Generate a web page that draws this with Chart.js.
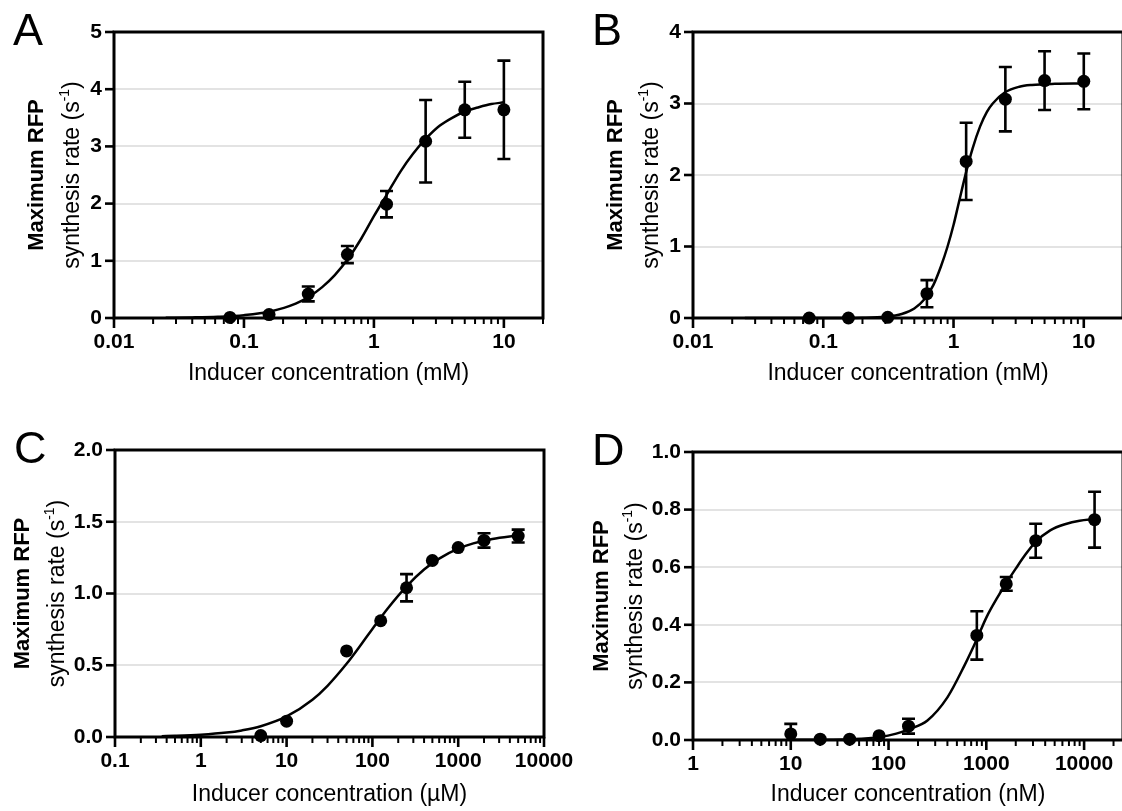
<!DOCTYPE html>
<html><head><meta charset="utf-8">
<script src="https://cdn.jsdelivr.net/npm/chart.js@4.4.0/dist/chart.umd.min.js"></script>
<style>
html,body{margin:0;padding:0;background:#fff;width:1122px;height:811px;overflow:hidden;position:relative}
canvas{position:absolute}
</style></head><body>
<canvas id="cA" width="560" height="387" style="left:0px;top:0px"></canvas>
<canvas id="cB" width="560" height="387" style="left:580px;top:0px"></canvas>
<canvas id="cC" width="600" height="408" style="left:0px;top:400px"></canvas>
<canvas id="cD" width="560" height="408" style="left:580px;top:400px"></canvas>
<script>
// ---------------- DATA ----------------
const panelLetters = ['A', 'B', 'C', 'D'];
const yTitleLine1 = 'Maximum RFP';
const yTitleLine2 = 'synthesis rate (s';
const yTitleSup = '-1';
const yTitleEnd = ')';
const xTitles = ['Inducer concentration (mM)', 'Inducer concentration (mM)', 'Inducer concentration (\u00b5M)', 'Inducer concentration (nM)'];

// Panel A
const xA = [0.078, 0.156, 0.3125, 0.625, 1.25, 2.5, 5, 10];
const yA = [0.01, 0.06, 0.42, 1.11, 1.99, 3.09, 3.64, 3.64];
const eA = [0, 0, 0.13, 0.15, 0.23, 0.72, 0.49, 0.86];
const fitXA = [0.025, 0.04, 0.063, 0.1, 0.16, 0.25, 0.32, 0.4, 0.5, 0.63, 0.8, 1, 1.25, 1.6, 2, 2.5, 3.2, 4, 5, 6.3, 8, 10];
const fitYA = [0.004, 0.01, 0.022, 0.05, 0.115, 0.25, 0.38, 0.54, 0.75, 1.03, 1.39, 1.78, 2.15, 2.56, 2.87, 3.13, 3.36, 3.5, 3.61, 3.68, 3.74, 3.77];
const xMajorA = [0.01, 0.1, 1, 10];
const xLabelsA = ['0.01', '0.1', '1', '10'];
const yTicksA = [0, 1, 2, 3, 4, 5];
const yLabelsA = ['0', '1', '2', '3', '4', '5'];

// Panel B
const xB = [0.078, 0.156, 0.3125, 0.625, 1.25, 2.5, 5, 10];
const yB = [0, 0, 0.01, 0.34, 2.19, 3.06, 3.32, 3.31];
const eB = [0, 0, 0, 0.19, 0.54, 0.45, 0.41, 0.39];
const fitXB = [0.025, 0.1, 0.2, 0.3, 0.4, 0.5, 0.6, 0.7, 0.8, 0.9, 1, 1.1, 1.25, 1.4, 1.6, 1.8, 2, 2.5, 3.2, 4, 6, 10];
const fitYB = [0, 0, 0.004, 0.018, 0.056, 0.134, 0.267, 0.46, 0.72, 1.0, 1.3, 1.62, 2.04, 2.37, 2.68, 2.88, 3.0, 3.16, 3.235, 3.26, 3.275, 3.28];
const xMajorB = [0.01, 0.1, 1, 10];
const xLabelsB = ['0.01', '0.1', '1', '10'];
const yTicksB = [0, 1, 2, 3, 4];
const yLabelsB = ['0', '1', '2', '3', '4'];

// Panel C
const xC = [5, 10, 50, 125, 250, 500, 1000, 2000, 5000];
const yC = [0.01, 0.11, 0.60, 0.81, 1.04, 1.23, 1.32, 1.37, 1.40];
const eC = [0, 0, 0, 0, 0.095, 0, 0, 0.05, 0.045];
const fitXC = [0.35, 0.5, 1, 2, 3, 5, 10, 20, 30, 50, 75, 100, 150, 250, 400, 600, 1000, 1500, 2500, 5000];
const fitYC = [0.0055, 0.008, 0.016, 0.031, 0.046, 0.075, 0.143, 0.26, 0.357, 0.51, 0.65, 0.753, 0.894, 1.05, 1.167, 1.243, 1.312, 1.349, 1.38, 1.405];
const xMajorC = [0.1, 1, 10, 100, 1000, 10000];
const xLabelsC = ['0.1', '1', '10', '100', '1000', '10000'];
const yTicksC = [0, 0.5, 1, 1.5, 2];
const yLabelsC = ['0.0', '0.5', '1.0', '1.5', '2.0'];

// Panel D
const xD = [10, 20, 40, 80, 160, 800, 1600, 3200, 12800];
const yD = [0.021, 0.003, 0.003, 0.015, 0.048, 0.363, 0.542, 0.692, 0.765];
const eD = [0.035, 0, 0, 0, 0.026, 0.084, 0.024, 0.059, 0.097];
const fitXD = [10, 20, 40, 80, 120, 160, 250, 400, 600, 800, 1000, 1300, 1600, 2000, 2500, 3200, 4500, 6500, 9000, 12800];
const fitYD = [0.0005, 0.001, 0.003, 0.01, 0.022, 0.037, 0.068, 0.148, 0.26, 0.35, 0.425, 0.495, 0.545, 0.595, 0.643, 0.688, 0.728, 0.75, 0.761, 0.767];
const xMajorD = [1, 10, 100, 1000, 10000];
const xLabelsD = ['1', '10', '100', '1000', '10000'];
const yTicksD = [0, 0.2, 0.4, 0.6, 0.8, 1.0];
const yLabelsD = ['0.0', '0.2', '0.4', '0.6', '0.8', '1.0'];

// ---------------- RENDERING ----------------
Chart.defaults.font.family = "'Liberation Sans', Arial, Helvetica, sans-serif";
Chart.defaults.color = '#000';

function logTicks(min, max) {
  // tick marks at 1..9 x 10^k inside the axis range
  const out = [];
  for (let k = Math.floor(Math.log10(min)); k <= Math.ceil(Math.log10(max)); k++) {
    for (let m = 1; m <= 9; m++) {
      const v = parseFloat((m * Math.pow(10, k)).toPrecision(6));
      if (v >= min * 0.9999 && v <= max * 1.0001) out.push(v);
    }
  }
  return out;
}

function makePanel(cfg) {
  const isMajor = v => cfg.xMajor.some(m => Math.abs(Math.log10(v) - Math.log10(m)) < 1e-6);
  const plugin = {
    id: 'frame' + cfg.letter,
    beforeDatasetsDraw(chart) {
      const {ctx, chartArea: a, scales: {x, y}} = chart;
      ctx.save();
      ctx.strokeStyle = '#000';
      ctx.lineCap = 'butt';
      x.ticks.forEach(t => {
        const px = x.getPixelForValue(t.value);
        const maj = isMajor(t.value);
        ctx.lineWidth = maj ? 2.6 : 2;
        ctx.beginPath();
        ctx.moveTo(px, a.bottom);
        ctx.lineTo(px, a.bottom + (maj ? 10 : 6));
        ctx.stroke();
      });
      y.ticks.forEach(t => {
        const py = y.getPixelForValue(t.value);
        ctx.lineWidth = 2.6;
        ctx.beginPath();
        ctx.moveTo(a.left - 9, py);
        ctx.lineTo(a.left, py);
        ctx.stroke();
      });
      ctx.lineWidth = 3;
      ctx.strokeRect(a.left, a.top, a.right - a.left, a.bottom - a.top);
      ctx.restore();
    },
    afterDatasetsDraw(chart) {
      const {ctx, scales: {x, y}} = chart;
      ctx.save();
      ctx.strokeStyle = '#000';
      ctx.lineWidth = 2.6;
      cfg.xs.forEach((xv, i) => {
        const e = cfg.errs[i];
        if (!e) return;
        const px = x.getPixelForValue(xv);
        const top = y.getPixelForValue(cfg.ys[i] + e);
        const lowV = cfg.ys[i] - e;
        const bot = y.getPixelForValue(Math.max(lowV, 0));
        ctx.beginPath();
        ctx.moveTo(px, top); ctx.lineTo(px, bot);
        ctx.moveTo(px - 6.5, top); ctx.lineTo(px + 6.5, top);
        if (lowV > 0) { ctx.moveTo(px - 6.5, bot); ctx.lineTo(px + 6.5, bot); }
        ctx.stroke();
      });
      ctx.restore();
    },
    afterDraw(chart) {
      const {ctx, chartArea: a} = chart;
      ctx.save();
      ctx.fillStyle = '#000';
      // panel letter
      ctx.font = "45px 'Liberation Sans', Arial, sans-serif";
      ctx.textAlign = 'left';
      ctx.textBaseline = 'alphabetic';
      ctx.fillText(cfg.letter, a.left - 101, a.top + 13);
      // y title (two lines, rotated)
      const yc = (a.top + a.bottom) / 2;
      ctx.textBaseline = 'middle';
      ctx.save();
      ctx.translate(a.left + cfg.t1, yc);
      ctx.rotate(-Math.PI / 2);
      ctx.font = "bold 22px 'Liberation Sans', Arial, sans-serif";
      ctx.textAlign = 'center';
      ctx.fillText(yTitleLine1, 0, 0);
      ctx.restore();
      ctx.save();
      ctx.translate(a.left + cfg.t2, yc);
      ctx.rotate(-Math.PI / 2);
      ctx.textAlign = 'left';
      const fMain = "23px 'Liberation Sans', Arial, sans-serif";
      const fSup = "14px 'Liberation Sans', Arial, sans-serif";
      ctx.font = fMain;
      const w1 = ctx.measureText(yTitleLine2).width;
      const w3 = ctx.measureText(yTitleEnd).width;
      ctx.font = fSup;
      const w2 = ctx.measureText(yTitleSup).width;
      let sx = -(w1 + w2 + w3) / 2;
      ctx.font = fMain;
      ctx.fillText(yTitleLine2, sx, 0);
      ctx.font = fSup;
      ctx.fillText(yTitleSup, sx + w1, -8);
      ctx.font = fMain;
      ctx.fillText(yTitleEnd, sx + w1 + w2, 0);
      ctx.restore();
      ctx.restore();
    }
  };

  const xTickList = logTicks(cfg.xMin, cfg.xMax);

  return new Chart(document.getElementById(cfg.id), {
    type: 'scatter',
    data: {
      datasets: [
        {
          data: cfg.xs.map((v, i) => ({x: v, y: cfg.ys[i]})),
          backgroundColor: '#000', borderColor: '#000',
          pointRadius: 6.5, pointHoverRadius: 6.5, borderWidth: 0,
          clip: false
        },
        {
          data: cfg.fx.map((v, i) => ({x: v, y: cfg.fy[i]})),
          showLine: true, pointRadius: 0, borderColor: '#000', borderWidth: 2.5,
          cubicInterpolationMode: 'monotone', fill: false, clip: false
        }
      ]
    },
    options: {
      responsive: false,
      animation: false,
      devicePixelRatio: 1,
      layout: {padding: {left: 0, top: cfg.pt, right: cfg.pr, bottom: 0}},
      plugins: {legend: {display: false}, tooltip: {enabled: false}},
      scales: {
        x: {
          type: 'logarithmic', min: cfg.xMin, max: cfg.xMax,
          afterBuildTicks: s => { s.ticks = xTickList.map(v => ({value: v, major: isMajor(v)})); },
          afterFit: s => { s.height = cfg.hx; },
          grid: {display: false, drawTicks: false},
          border: {display: false},
          ticks: {
            autoSkip: false, maxRotation: 0, minRotation: 0, padding: 12,
            font: {size: 21, weight: 'bold'}, color: '#000',
            callback: (v) => {
              const idx = cfg.xMajor.findIndex(m => Math.abs(Math.log10(v) - Math.log10(m)) < 1e-6);
              return idx >= 0 ? cfg.xLabels[idx] : '';
            }
          },
          title: {display: true, text: cfg.xTitle, font: {size: 23}, color: '#000', padding: 0}
        },
        y: {
          type: 'linear', min: cfg.yTicks[0], max: cfg.yTicks[cfg.yTicks.length - 1],
          afterBuildTicks: s => { s.ticks = cfg.yTicks.map(v => ({value: v})); },
          afterFit: s => { s.width = cfg.wy; },
          grid: {
            drawTicks: false,
            lineWidth: 2,
            color: c => (c.tick && (c.tick.value === cfg.yTicks[0] || c.tick.value === cfg.yTicks[cfg.yTicks.length - 1])) ? 'rgba(0,0,0,0)' : '#e3e3e3'
          },
          border: {display: false},
          ticks: {
            padding: 12, font: {size: 21, weight: 'bold'}, color: '#000',
            callback: (v, i) => cfg.yLabels[i]
          }
        }
      }
    },
    plugins: [plugin]
  });
}

makePanel({id: 'cA', letter: panelLetters[0], xs: xA, ys: yA, errs: eA, fx: fitXA, fy: fitYA,
  xMin: 0.01, xMax: 20, xMajor: xMajorA, xLabels: xLabelsA, yTicks: yTicksA, yLabels: yLabelsA,
  xTitle: xTitles[0], pt: 32, pr: 17, wy: 114, hx: 69, t1: -77, t2: -41});
makePanel({id: 'cB', letter: panelLetters[1], xs: xB, ys: yB, errs: eB, fx: fitXB, fy: fitYB,
  xMin: 0.01, xMax: 20, xMajor: xMajorB, xLabels: xLabelsB, yTicks: yTicksB, yLabels: yLabelsB,
  xTitle: xTitles[1], pt: 32, pr: 17, wy: 113, hx: 69, t1: -77, t2: -41});
makePanel({id: 'cC', letter: panelLetters[2], xs: xC, ys: yC, errs: eC, fx: fitXC, fy: fitYC,
  xMin: 0.1, xMax: 10000, xMajor: xMajorC, xLabels: xLabelsC, yTicks: yTicksC, yLabels: yLabelsC,
  xTitle: xTitles[2], pt: 50, pr: 56, wy: 115, hx: 71, t1: -92, t2: -57});
makePanel({id: 'cD', letter: panelLetters[3], xs: xD, ys: yD, errs: eD, fx: fitXD, fy: fitYD,
  xMin: 1, xMax: 25000, xMajor: xMajorD, xLabels: xLabelsD, yTicks: yTicksD, yLabels: yLabelsD,
  xTitle: xTitles[3], pt: 52, pr: 17, wy: 113, hx: 68, t1: -91, t2: -57});
</script>
</body></html>
